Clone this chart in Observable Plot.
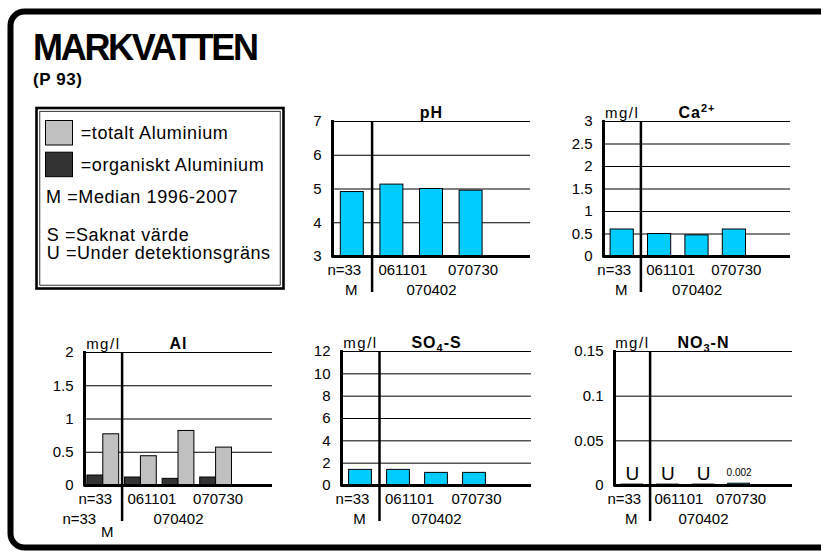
<!DOCTYPE html>
<html><head><meta charset="utf-8">
<script src="https://cdn.jsdelivr.net/npm/d3@7"></script>
<script src="https://cdn.jsdelivr.net/npm/@observablehq/plot@0.6"></script>
<style>
html,body{margin:0;padding:0;background:#fff;}
#root{position:relative;width:821px;height:552px;overflow:hidden;background:#fff;font-family:'Liberation Sans',Arial,sans-serif;}
#root svg{position:absolute;}
</style></head><body><div id="root"></div>
<script>
// ---------- data ----------
const pageTitle = "MARKVATTEN";
const pageSubtitle = "(P 93)";
const slots = ["M", "061101", "070402", "070730", ""];
const medianN = "n=33";
const unitLabel = "mg/l";
const chartTitles = ["pH", "Ca^2+", "Al", "SO_4-S", "NO_3-N"];

const phValues = [4.91, 5.13, 5.0, 4.95];
const phTicks = [3, 4, 5, 6, 7];
const caValues = [0.60, 0.50, 0.47, 0.60];
const caTicks = [0, 0.5, 1, 1.5, 2, 2.5, 3];
const alTotal = [0.77, 0.44, 0.82, 0.57];
const alOrganic = [0.15, 0.12, 0.10, 0.12];
const alTicks = [0, 0.5, 1, 1.5, 2];
const so4Values = [1.40, 1.40, 1.13, 1.13];
const so4Ticks = [0, 2, 4, 6, 8, 10, 12];
const no3Values = [0.001, 0.001, 0.001, 0.002];
const no3Below = [true, true, true, false];
const no3Ticks = [0, 0.05, 0.1, 0.15];

const legendSwatches = [
  {label: "=totalt Aluminium", color: "#c0c0c0"},
  {label: "=organiskt Aluminium", color: "#333333"}
];
const legendCodes = ["M =Median 1996-2007", "S =Saknat värde", "U =Under detektionsgräns"];

// ---------- background: frame, title, legend ----------
const root = document.getElementById("root");
const FONT = "'Liberation Sans', Arial, sans-serif";
const bg = d3.select(root).append("svg").attr("width", 821).attr("height", 552)
  .style("left", "0px").style("top", "0px").attr("font-family", FONT);
bg.append("rect").attr("x", 10.5).attr("y", 11.5).attr("width", 900).attr("height", 536)
  .attr("rx", 14).attr("fill", "none").attr("stroke", "#000").attr("stroke-width", 6);
bg.append("text").attr("x", 33).attr("y", 59.5).attr("font-size", 36).attr("font-weight", "bold")
  .attr("letter-spacing", -2.3).text(pageTitle);
bg.append("text").attr("x", 33).attr("y", 84.5).attr("font-size", 17).attr("font-weight", "bold")
  .attr("letter-spacing", 0.6).text(pageSubtitle);
// legend box (double border)
bg.append("rect").attr("x", 36.5).attr("y", 108).attr("width", 247).attr("height", 180.5)
  .attr("fill", "#fff").attr("stroke", "#000").attr("stroke-width", 2.6);
bg.append("rect").attr("x", 39.8).attr("y", 111.3).attr("width", 240.4).attr("height", 173.9)
  .attr("fill", "none").attr("stroke", "#000").attr("stroke-width", 0.8);
legendSwatches.forEach((s, i) => {
  const y = 120 + i * 31.7;
  bg.append("rect").attr("x", 45.5).attr("y", y + 0.5).attr("width", 27).attr("height", 24.5)
    .attr("fill", s.color).attr("stroke", "#000").attr("stroke-width", 1);
  bg.append("text").attr("x", 80.7).attr("y", 139.3 + i * 31.7).attr("font-size", 18)
    .attr("letter-spacing", 0.6).text(s.label);
});
const codeBase = [203.3, 240.7, 259.3];
const codeX = [46, 46.7, 46.7];
legendCodes.forEach((t, i) => {
  bg.append("text").attr("x", codeX[i]).attr("y", codeBase[i]).attr("font-size", 18)
    .attr("letter-spacing", 0.6).text(t);
});

// ---------- chart helper ----------
const svgNS = "http://www.w3.org/2000/svg";
function richText(el, s) {
  const re = /([_^])([^-\s]+)/g;
  el.textContent = "";
  let shift = 0, last = 0, m;
  const add = (txt, target, size) => {
    const t = document.createElementNS(svgNS, "tspan");
    t.setAttribute("dy", target - shift); shift = target;
    if (size) t.setAttribute("font-size", size);
    t.textContent = txt; el.appendChild(t);
  };
  while ((m = re.exec(s))) {
    if (m.index > last) add(s.slice(last, m.index), 0);
    add(m[2], m[1] === "^" ? -6 : 4, 11);
    last = re.lastIndex;
  }
  if (last < s.length) add(s.slice(last), 0);
}

const rowDy = {1: 13.5, 2: 33.5, 3: 46.5};
function labelDx(l) {
  if (l.text === medianN) return l.row === 1 ? -8 : -24;
  if (l.text === slots[0]) return l.row === 3 ? 4 : -1;
  if (l.text === slots[1]) return 11;
  if (l.text === slots[3]) return 2;
  return 0;
}
function xLabels(extraN) {
  const out = [{slot: slots[0], text: medianN, row: 1}];
  if (extraN) out.push({slot: slots[0], text: medianN, row: 2});
  out.push({slot: slots[0], text: slots[0], row: extraN ? 3 : 2});
  slots.slice(1).filter(s => s).forEach((s, i) => out.push({slot: s, text: s, row: i % 2 ? 2 : 1}));
  return out;
}

function makeChart(cfg) {
  const mL = 60, mR = 12, mT = 40, mB = 60;
  const fw = cfg.right - cfg.left, fh = cfg.bottom - cfg.top;
  const step = fw / slots.length;
  const bw = step * (1 - cfg.padding);
  const [y0, y1] = cfg.yDomain;
  const labels = xLabels(cfg.extraN);
  const marks = [
    Plot.ruleY(cfg.yTicks, {y: d => d, stroke: "#000", strokeWidth: 1}),
    ...cfg.bars(bw, y0),
    Plot.ruleY([y0], {y: d => d, stroke: "#000", strokeWidth: 3}),
    Plot.ruleX([slots[0]], {x: d => d, dx: -step / 2, stroke: "#000", strokeWidth: 3, insetTop: -1, insetBottom: -1.5}),
    Plot.ruleX([slots[0]], {x: d => d, dx: step / 2, stroke: "#000", strokeWidth: 2.5, insetBottom: -36}),
    Plot.text(cfg.yTicks, {y: d => d, frameAnchor: "left", textAnchor: "end", dx: -11, text: d => String(d), fontSize: 15}),
    ...labels.map(l => Plot.text([l], {x: "slot", y: () => y0, text: "text", dx: labelDx(l), dy: rowDy[l.row], fontSize: 15})),
    Plot.text([cfg.title], {x: () => slots[2], frameAnchor: "top", dy: -15, fontSize: 16, fontWeight: "bold", text: d => d})
  ];
  if (cfg.unit) marks.push(Plot.text([unitLabel], {x: () => slots[0], frameAnchor: "top", dy: -14, fontSize: 15, text: d => d}));
  const svg = Plot.plot({
    width: mL + fw + mR, height: mT + fh + mB,
    marginLeft: mL, marginRight: mR, marginTop: mT, marginBottom: mB,
    x: {type: "band", domain: slots, paddingInner: cfg.padding, paddingOuter: cfg.padding / 2, align: 0.5, round: false, axis: null},
    y: {domain: cfg.yDomain, axis: null},
    style: {fontFamily: FONT, fontSize: "15px", color: "#000", background: "transparent", overflow: "visible"},
    marks
  });
  svg.style.position = "absolute";
  svg.style.left = (cfg.left - mL) + "px";
  svg.style.top = (cfg.top - mT) + "px";
  svg.querySelectorAll("text").forEach(t => {
    if (t.textContent === cfg.title) { t.setAttribute("letter-spacing", 1); richText(t, cfg.title); }
    else if (t.textContent === unitLabel) t.setAttribute("letter-spacing", 1.5);
  });
  root.appendChild(svg);
}

const rowsOf = vals => vals.map((v, i) => ({slot: slots[i], value: v}));
const CYAN = "#00ccff";
const simpleBars = vals => (bw, y0) => [
  Plot.barY(rowsOf(vals), {x: "slot", y1: () => y0, y2: "value", fill: CYAN, stroke: "#000", strokeWidth: 1})
];

makeChart({title: chartTitles[0], left: 332, right: 530, top: 121, bottom: 256, yDomain: [3, 7], yTicks: phTicks,
  padding: 0.42, bars: simpleBars(phValues)});
makeChart({title: chartTitles[1], unit: true, left: 603, right: 790, top: 121, bottom: 256, yDomain: [0, 3], yTicks: caTicks,
  padding: 0.38, bars: simpleBars(caValues)});
const alRows = alTotal.map((v, i) => ({slot: slots[i], total: v, organic: alOrganic[i]}));
makeChart({title: chartTitles[2], unit: true, extraN: true, left: 84, right: 272, top: 352, bottom: 485, yDomain: [0, 2], yTicks: alTicks,
  padding: 0.155, bars: (bw, y0) => [
    Plot.barY(alRows, {x: "slot", y1: () => y0, y2: "organic", fill: "#333333", stroke: "#000", strokeWidth: 1, insetRight: bw / 2}),
    Plot.barY(alRows, {x: "slot", y1: () => y0, y2: "total", fill: "#c0c0c0", stroke: "#000", strokeWidth: 1, insetLeft: bw / 2})
  ]});
makeChart({title: chartTitles[3], unit: true, left: 341, right: 531, top: 351, bottom: 485, yDomain: [0, 12], yTicks: so4Ticks,
  padding: 0.4, bars: simpleBars(so4Values)});
const no3Rows = no3Values.map((v, i) => ({slot: slots[i], value: v, below: no3Below[i]}));
makeChart({title: chartTitles[4], unit: true, left: 614, right: 792, top: 351, bottom: 485, yDomain: [0, 0.15], yTicks: no3Ticks,
  padding: 0.39, bars: (bw, y0) => [
    Plot.barY(no3Rows, {x: "slot", y1: () => y0, y2: "value", fill: CYAN, stroke: "#000", strokeWidth: 1}),
    Plot.text(no3Rows.filter(d => d.below), {x: "slot", y: "value", text: () => "U", fontSize: 19, dy: -10.5}),
    Plot.text(no3Rows.filter(d => !d.below), {x: "slot", y: "value", text: d => String(d.value), fontSize: 10, dy: -11})
  ]});
</script></body></html>
